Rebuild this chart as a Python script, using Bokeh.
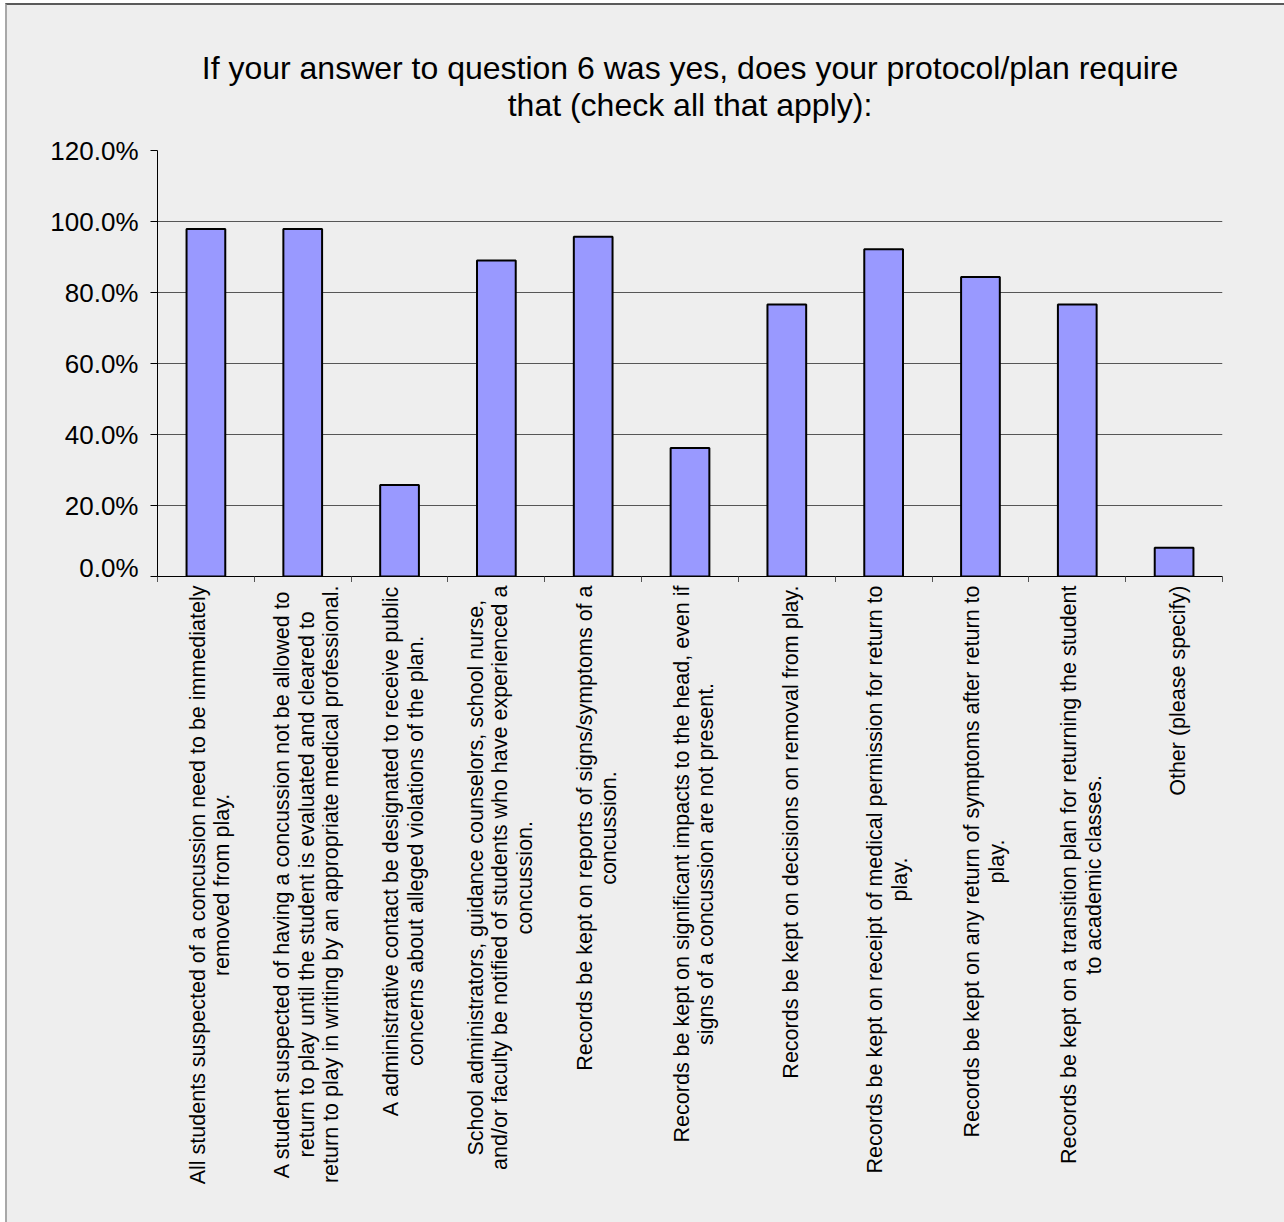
from bokeh.plotting import figure
from bokeh.models import Range1d, FixedTicker, PrintfTickFormatter, ColumnDataSource
from bokeh.layouts import column
from bokeh.core.properties import value
from bokeh.embed import file_html
from bokeh.resources import INLINE
import math

title_text = "If your answer to question 6 was yes, does your protocol/plan require\nthat (check all that apply):"

categories = [
    "All students suspected of a concussion need to be immediately\nremoved from play.",
    "A student suspected of having a concussion not be allowed to\nreturn to play until the student is evaluated and cleared to\nreturn to play in writing by an appropriate medical professional.",
    "A administrative contact be designated to receive public\nconcerns about alleged violations of the plan.",
    "School administrators, guidance counselors, school nurse,\nand/or faculty be notified of students who have experienced a\nconcussion.",
    "Records be kept on reports of signs/symptoms of a\nconcussion.",
    "Records be kept on significant impacts to the head, even if\nsigns of a concussion are not present.",
    "Records be kept on decisions on removal from play.",
    "Records be kept on receipt of medical permission for return to\nplay.",
    "Records be kept on any return of symptoms after return to\nplay.",
    "Records be kept on a transition plan for returning the student\nto academic classes.",
    "Other (please specify)",
]

values = [97.9, 97.9, 25.8, 89.0, 95.7, 36.2, 76.6, 92.2, 84.4, 76.6, 8.1]

y_ticks = [0, 20, 40, 60, 80, 100, 120]

FONT = "Liberation Sans"
BG = "#eeeeee"

n = len(categories)
centers = [i + 0.5 for i in range(n)]
bounds = list(range(n + 1))
y_max = y_ticks[-1]

W = 1277
MAIN_H = 577
LAB_H = 640

source = ColumnDataSource(data=dict(x=centers, top=values))

# ---------------- main chart ----------------
chart = figure(
    width=W, height=MAIN_H,
    frame_width=1065, frame_height=426,
    x_range=Range1d(0, n), y_range=Range1d(0, y_max),
    output_backend="svg", toolbar_location=None,
    min_border_left=150, min_border_right=62,
    min_border_top=145, min_border_bottom=6,
    background_fill_color=BG, border_fill_color=BG,
    outline_line_color=None,
)

chart.title.text = title_text
chart.title.align = "center"
chart.title.text_align = "center"
chart.title.text_font = FONT
chart.title.text_font_size = "32px"
chart.title.text_font_style = "normal"
chart.title.text_color = "#000000"
chart.title.text_line_height = 1.04
chart.title.standoff = 54

chart.vbar(x="x", top="top", bottom=0, width=0.40, source=source,
           fill_color="#9999ff", line_color="#000000", line_width=2)

ya = chart.yaxis[0]
ya.ticker = FixedTicker(ticks=y_ticks, minor_ticks=[])
ya.formatter = PrintfTickFormatter(format="%.1f%%")
ya.major_label_text_font = FONT
ya.major_label_text_font_size = "26px"
ya.major_label_text_color = "#000000"
ya.major_tick_in = 0
ya.major_tick_out = 7
ya.major_tick_line_color = "#000000"
ya.axis_line_color = "#000000"
ya.major_label_standoff = 12

xa = chart.xaxis[0]
xa.ticker = FixedTicker(ticks=[], minor_ticks=bounds)
xa.major_label_text_font_size = "0px"
xa.major_label_standoff = 0
xa.major_tick_in = 0
xa.major_tick_out = 0
xa.major_tick_line_color = None
xa.minor_tick_in = 0
xa.minor_tick_out = 6
xa.minor_tick_line_color = "#555555"
xa.axis_line_color = "#000000"

chart.xgrid.grid_line_color = None
chart.ygrid.ticker = FixedTicker(ticks=y_ticks)
chart.ygrid.grid_line_color = "#555555"
chart.ygrid.grid_line_width = 1

# ---------------- category labels (rotated, centred lines) ----------------
labels_fig = figure(
    width=W, height=LAB_H,
    frame_width=1065, frame_height=LAB_H,
    x_range=chart.x_range, y_range=Range1d(-LAB_H, 0),
    output_backend="svg", toolbar_location=None,
    min_border_left=150, min_border_right=62,
    min_border_top=0, min_border_bottom=0,
    x_axis_location=None, y_axis_location=None,
    background_fill_color=BG, border_fill_color=BG,
    outline_line_color=None,
)
labels_fig.grid.visible = False

lab_source = ColumnDataSource(data=dict(x=centers, text=categories))
labels_fig.text(x="x", y=-3, text="text", source=lab_source,
                angle=math.pi / 2, anchor=value("center_right"),
                x_offset=4,
                text_align=value("center"), text_baseline=value("middle"),
                text_font=value(FONT), text_font_size=value("21.5px"),
                text_color="#000000", text_line_height=1.02)

p = column(chart, labels_fig, spacing=0)
p.styles = {
    "border-left": "2px solid #a8a8a8",
    "border-top": "2px solid #5a5a5a",
    "margin-left": "5px",
    "margin-top": "3px",
    "background-color": BG,
}

open("out.html", "w").write(file_html(p, INLINE))
